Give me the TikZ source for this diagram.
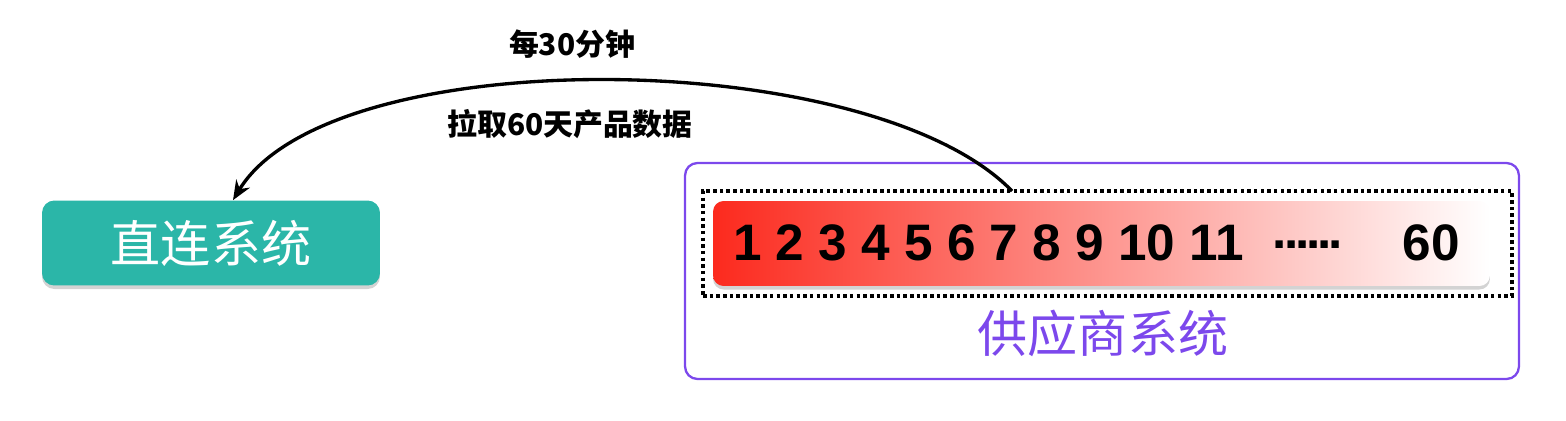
\documentclass[tikz,border=0pt]{standalone}
\usepackage{fontspec}
\usepackage{tikz}
\usetikzlibrary{arrows.meta, positioning, shadows}
\setmainfont{Liberation Sans}
\newfontfamily\cjk{Noto Sans CJK SC}
\definecolor{teal}{RGB}{43,182,168}
\definecolor{vendor}{RGB}{124,72,236}
\definecolor{hot}{RGB}{252,42,30}
\newcommand{\dotrow}{\raisebox{0.24em}{.\kern-0.06em.\kern-0.06em.\kern-0.06em.\kern-0.06em.\kern-0.06em.}}

\begin{document}
\begin{tikzpicture}[
      x=0.02cm, y=-0.02cm,
      sys/.style={rectangle, rounded corners=7pt, fill=teal, text=white,
                  minimum width=6.76cm, minimum height=1.7cm,
                  font=\cjk\fontsize{28.5}{30}\selectfont,
                  drop shadow={opacity=0.35, shadow xshift=0pt, shadow yshift=-2pt}},
      outer/.style={rectangle, rounded corners=7pt, draw=vendor, line width=1.3pt,
                    minimum width=16.68cm, minimum height=4.32cm},
      window/.style={rectangle, draw=black, line width=2.4pt,
                     dash pattern=on 2pt off 1.8pt,
                     minimum width=16.18cm, minimum height=2.1cm},
      days/.style={rectangle, rounded corners=6pt, left color=hot, right color=white,
                   minimum width=15.54cm, minimum height=1.7cm,
                   drop shadow={opacity=0.35, shadow xshift=0pt, shadow yshift=-2pt}},
      lbl/.style={font=\cjk\bfseries\fontsize{17}{19}\selectfont},
      pull/.style={-{Stealth[length=11pt, width=9pt]}, line width=1.9pt, draw=black}
    ]
    \useasboundingbox (0,0) rectangle (1566,420);
    % left side
    \node[sys] (direct) at (211,243) {直连系统};
    % vendor side
    \node[outer] (vendor) at (1102,271) {};
    \node[window] (range) at (1107.5,243.5) {};
    \node[days] (bar) at (1101.5,243.5) {};
    \node[anchor=west, font=\bfseries\fontsize{29.2}{31}\selectfont] (nums) at (727,243)
      {1 2 3 4 5 6 7 8 9 10 11\hspace{0.58cm}\dotrow\hspace{1.2cm}60};
    \node[text=vendor, font=\cjk\fontsize{28.5}{30}\selectfont] (vname) at (1103,333) {供应商系统};
    % pull arrow
    \coordinate (src) at (1012,191);
    \draw[pull] (src) .. controls (870,45) and (330,40) .. ([xshift=0.44cm]direct.north);
    \node[lbl] (every) at (572,44) {每30分钟};
    \node[lbl] (what) at (570,124) {拉取60天产品数据};
  \end{tikzpicture}
\end{document}
